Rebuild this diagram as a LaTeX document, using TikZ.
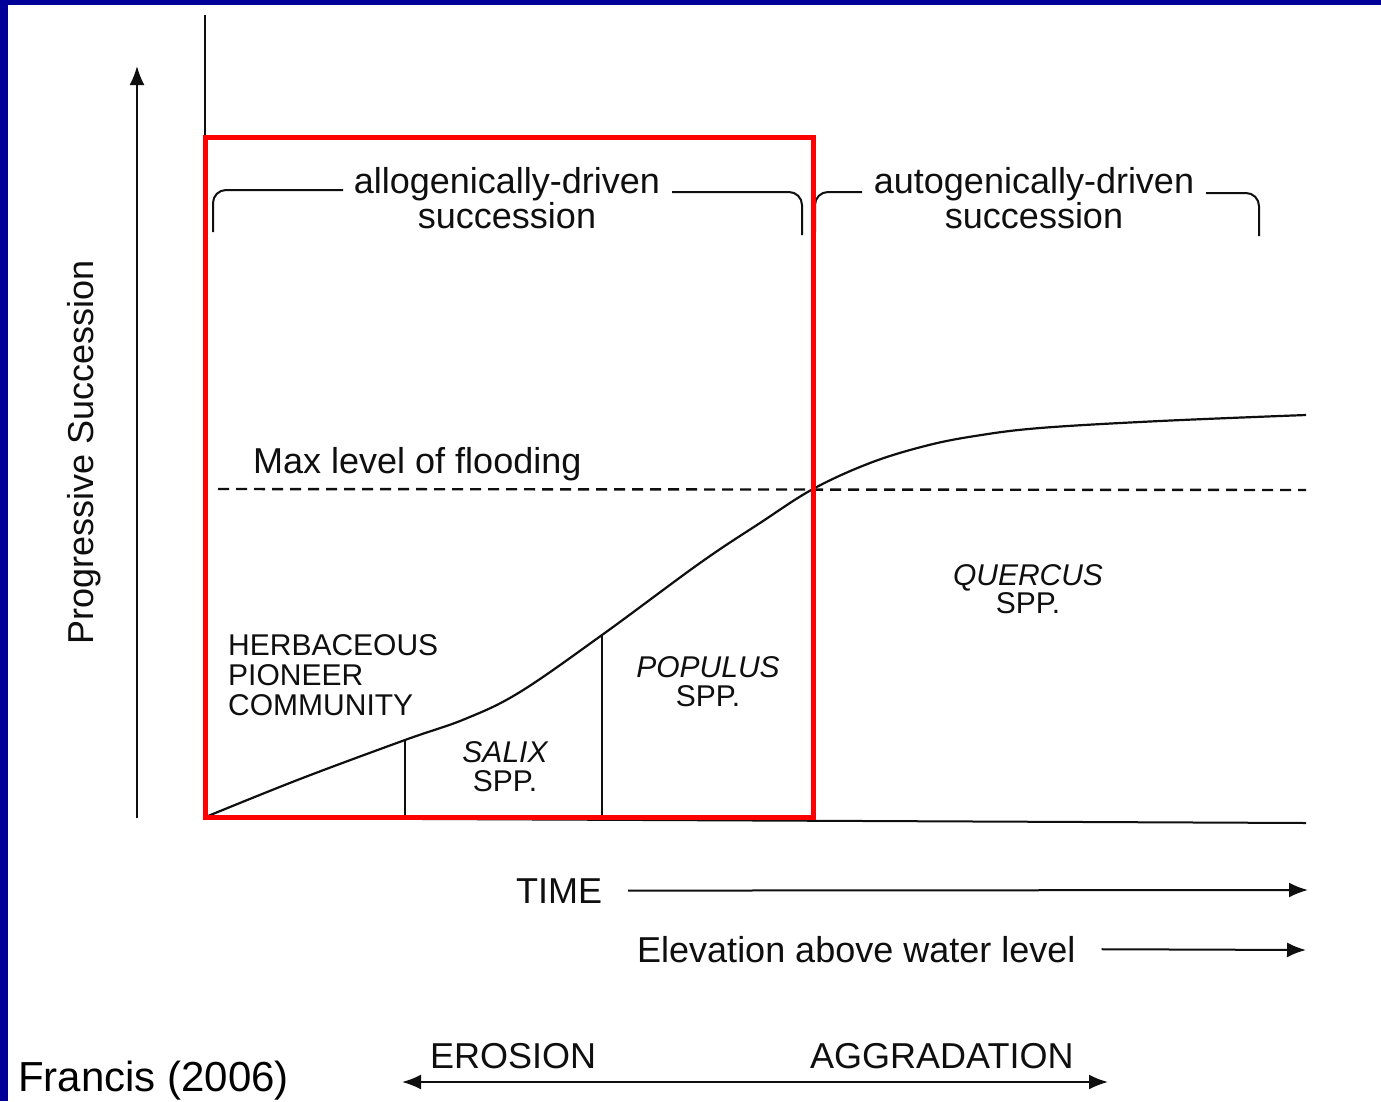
\documentclass[tikz,border=0pt]{standalone}
\usepackage{fontspec}
\setmainfont{Liberation Sans}
\usetikzlibrary{arrows.meta}
\definecolor{slideblue}{RGB}{0,0,153}
\definecolor{boxred}{RGB}{255,0,0}
\definecolor{ink}{RGB}{15,15,15}
\begin{document}
\begin{tikzpicture}[x=1pt,y=-1pt,
  hdr/.style={inner sep=0pt, anchor=base, text=ink, font=\fontsize{36}{36}\selectfont},
  spc/.style={inner sep=0pt, anchor=base, text=ink, font=\fontsize{30}{30}\selectfont},
  thin/.style={draw=ink, line width=2pt},
  arr/.style={draw=ink, line width=2pt, -{Latex[length=19pt,width=15pt]}},
  darr/.style={draw=ink, line width=2pt, {Latex[length=19pt,width=15pt]}-{Latex[length=19pt,width=15pt]}},
  brk/.style={draw=ink, line width=2pt, rounded corners=13pt},
  flood/.style={draw=ink, line width=2.4pt, dash pattern=on 11pt off 7pt},
  redbox/.style={draw=boxred, line width=5pt}
]
\useasboundingbox (0,0) rectangle (1381,1101);
\fill[white] (0,0) rectangle (1381,1101);
\fill[slideblue] (0,0) rectangle (1381,5);
\fill[slideblue] (0,0) rectangle (8,1101);

% coordinates
\coordinate (ybot) at (137,818);
\coordinate (ytop) at (137,66);
\coordinate (axtop) at (205,15);
\coordinate (origin) at (205,818);
\coordinate (axend) at (1306,823);
\coordinate (dashL) at (218,489);
\coordinate (dashR) at (1306,490);
\coordinate (salixTop) at (405,740);
\coordinate (salixBot) at (405,817);
\coordinate (popTop) at (602,635);
\coordinate (popBot) at (602,817);
\coordinate (timeEnd) at (1308,890);
\coordinate (elevEnd) at (1306,950);
\coordinate (eroL) at (402,1082);
\coordinate (aggR) at (1108,1082);

% axes
\draw[arr] (ybot) -- (ytop);
\draw[thin] (axtop) -- (origin);
\draw[thin] (origin) -- (axend);

% flood level
\draw[flood] (dashL) -- (dashR);

% succession curve
\draw[draw=ink, line width=2.2pt] plot[smooth, tension=0.6] coordinates {
 (208,816) (300,779) (405,740) (465,719) (520,692) (602,635) (700,563)
 (760,523) (813,489) (870,463) (925,446) (975,436) (1040,428) (1160,421) (1306,415)};

% dividers
\draw[thin] (salixTop) -- (salixBot);
\draw[thin] (popTop) -- (popBot);

% brackets
\draw[brk] (213,232) -- (213,190) -- (343,190);
\draw[brk] (672,192) -- (802,192) -- (802,235);
\draw[brk] (815,232) -- (815,192) -- (862,192);
\draw[brk] (1206,193) -- (1259,193) -- (1259,236);

% header texts
\node[hdr] (allo1) at (507,193) {allogenically-driven};
\node[hdr] (allo2) at (507,228) {succession};
\node[hdr] (auto1) at (1034,193) {autogenically-driven};
\node[hdr] (auto2) at (1034,228) {succession};
\node[hdr, anchor=base west] (maxf) at (253,473) {Max level of flooding};
\node[hdr, anchor=center, rotate=90] (ylab) at (84,452) {Progressive Succession};

% community labels
\node[spc, anchor=base west] (herb1) at (228,655) {HERBACEOUS};
\node[spc, anchor=base west] (herb2) at (228,685) {PIONEER};
\node[spc, anchor=base west] (herb3) at (228,715) {COMMUNITY};
\node[spc] (salix1) at (505,762) {\itshape SALIX};
\node[spc] (salix2) at (505,791) {SPP.};
\node[spc] (pop1) at (708,677) {\itshape POPULUS};
\node[spc] (pop2) at (708,706) {SPP.};
\node[spc] (quer1) at (1028,585) {\itshape QUERCUS};
\node[spc] (quer2) at (1028,613) {SPP.};

% bottom axes labels
\node[hdr] (time) at (559,903) {TIME};
\draw[arr, shorten <=26pt] (time.east) -- (timeEnd);
\node[hdr, anchor=base west] (elev) at (637,962) {Elevation above water level};
\draw[arr, shorten <=26pt] (elev.east) -- (elevEnd);
\node[hdr, anchor=base west] (ero) at (430,1068) {EROSION};
\node[hdr, anchor=base west] (agg) at (810,1068) {AGGRADATION};
\draw[darr] (eroL) -- (aggR);

\node[inner sep=0pt, anchor=base west, font=\fontsize{42}{42}\selectfont] (src) at (18,1091) {Francis (2006)};

% red highlight box
\draw[redbox] (205,137) rectangle (813,817);
\end{tikzpicture}
\end{document}
